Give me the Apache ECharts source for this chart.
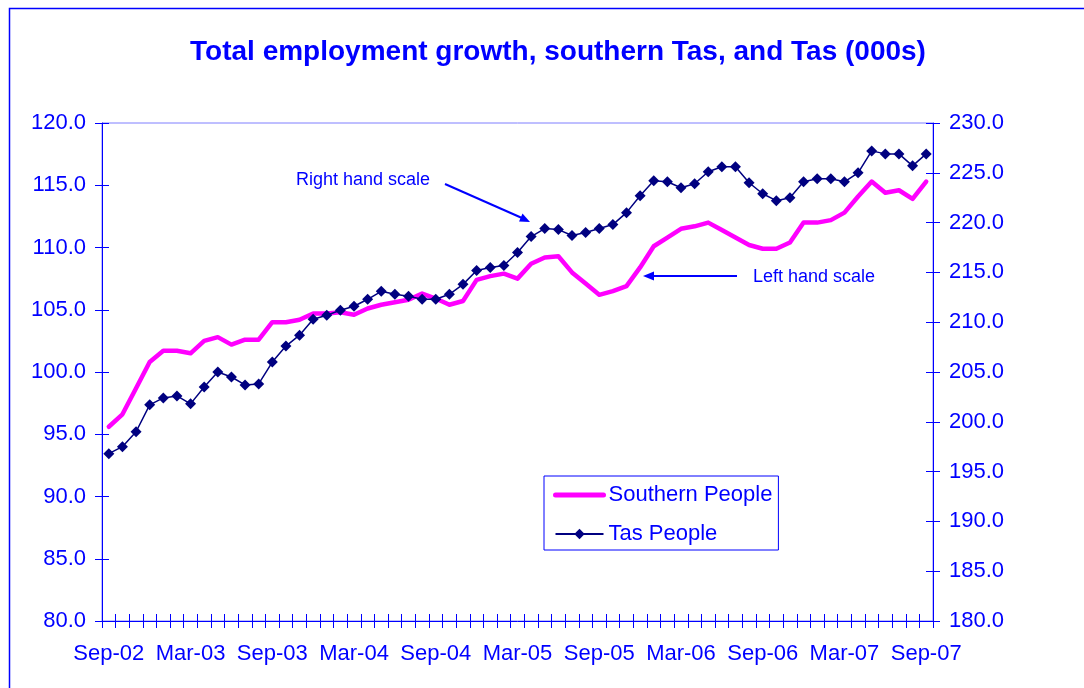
<!DOCTYPE html>
<html>
<head>
<meta charset="utf-8">
<script src="https://cdn.jsdelivr.net/npm/echarts@6/dist/echarts.min.js"></script>
<style>
  html, body { margin: 0; padding: 0; background: #fff; }
  #main { width: 1084px; height: 688px; }
</style>
</head>
<body>
<div id="main"></div>
<script>
var months = [
    'Sep-02','Oct-02','Nov-02','Dec-02','Jan-03','Feb-03','Mar-03','Apr-03','May-03','Jun-03','Jul-03','Aug-03',
    'Sep-03','Oct-03','Nov-03','Dec-03','Jan-04','Feb-04','Mar-04','Apr-04','May-04','Jun-04','Jul-04','Aug-04',
    'Sep-04','Oct-04','Nov-04','Dec-04','Jan-05','Feb-05','Mar-05','Apr-05','May-05','Jun-05','Jul-05','Aug-05',
    'Sep-05','Oct-05','Nov-05','Dec-05','Jan-06','Feb-06','Mar-06','Apr-06','May-06','Jun-06','Jul-06','Aug-06',
    'Sep-06','Oct-06','Nov-06','Dec-06','Jan-07','Feb-07','Mar-07','Apr-07','May-07','Jun-07','Jul-07','Aug-07',
    'Sep-07'
];

// southern Tas, left hand scale
var southernPeople = [
    95.6, 96.6, 98.7, 100.8, 101.7, 101.7, 101.5, 102.5, 102.8, 102.2, 102.6, 102.6,
    104.0, 104.0, 104.2, 104.7, 104.7, 104.8, 104.6, 105.1, 105.4, 105.6, 105.8, 106.3,
    105.9, 105.4, 105.7, 107.4, 107.7, 107.9, 107.5, 108.7, 109.2, 109.3, 108.0, 107.1,
    106.2, 106.5, 106.9, 108.4, 110.1, 110.8, 111.5, 111.7, 112.0, 111.4, 110.8, 110.2,
    109.9, 109.9, 110.4, 112.0, 112.0, 112.2, 112.8, 114.1, 115.3, 114.4, 114.6, 113.9,
    115.3
];

// Tas, right hand scale
var tasPeople = [
    196.8, 197.5, 199.0, 201.7, 202.4, 202.6, 201.8, 203.5, 205.0, 204.5, 203.7, 203.8,
    206.0, 207.6, 208.7, 210.3, 210.7, 211.2, 211.6, 212.3, 213.1, 212.8, 212.6, 212.3,
    212.3, 212.8, 213.8, 215.2, 215.5, 215.7, 217.0, 218.6, 219.4, 219.3, 218.7, 219.0,
    219.4, 219.8, 221.0, 222.7, 224.2, 224.1, 223.5, 223.9, 225.1, 225.6, 225.6, 224.0,
    222.9, 222.2, 222.5, 224.1, 224.4, 224.4, 224.1, 225.0, 227.2, 226.9, 226.9, 225.7,
    226.9
];

var leftScale = [80, 120, 5];
var rightScale = [180, 230, 5];

var blue = '#0000ff';
var font = '"Liberation Sans", Arial, sans-serif';

function yAx(pos, sc, inside) {
    return {
        type: 'value',
        position: pos,
        min: sc[0],
        max: sc[1],
        interval: sc[2],
        axisLine: { show: !inside, lineStyle: { color: blue, width: 1 } },
        axisTick: { show: true, inside: inside, length: 7, lineStyle: { color: blue } },
        axisLabel: {
            show: !inside, color: blue, fontSize: 22, fontFamily: font, margin: 16,
            formatter: function (v) { return v.toFixed(1); }
        },
        splitLine: { show: false }
    };
}

function xAx(inside) {
    return {
        type: 'category',
        data: months,
        position: 'bottom',
        boundaryGap: true,
        axisLine: { show: !inside, lineStyle: { color: blue, width: 1 } },
        axisTick: { show: true, inside: inside, interval: 0, length: 7, lineStyle: { color: blue } },
        axisLabel: { show: !inside, interval: 5, color: blue, fontSize: 22, fontFamily: font, margin: 22 },
        splitLine: { show: false }
    };
}

var myChart = echarts.init(document.getElementById('main'));
var option = {
    animation: false,
    backgroundColor: '#fff',
    title: {
        text: 'Total employment growth, southern Tas, and Tas (000s)',
        left: 553,
        textAlign: 'center',
        top: 33,
        textStyle: { color: blue, fontSize: 28, fontWeight: 'bold', fontFamily: font }
    },
    grid: {
        left: 102, right: 151, top: 123, bottom: 67,
        show: true, borderColor: '#7f7fff', borderWidth: 1
    },
    legend: {
        orient: 'vertical',
        left: 544,
        top: 476,
        padding: [8, 6, 5, 9],
        itemWidth: 48,
        itemHeight: 13,
        itemGap: 17,
        borderColor: blue,
        borderWidth: 1,
        textStyle: { color: blue, fontSize: 22, fontFamily: font },
        data: [
            { name: 'Southern People', itemStyle: { color: 'transparent', borderWidth: 0 },
              lineStyle: { width: 5, cap: 'round' } },
            { name: 'Tas People' }
        ]
    },
    xAxis: [xAx(false), xAx(true)],
    yAxis: [yAx('left', leftScale, false), yAx('right', rightScale, false),
            yAx('left', leftScale, true), yAx('right', rightScale, true)],
    series: [
        {
            name: 'Southern People',
            type: 'line',
            yAxisIndex: 0,
            data: southernPeople,
            symbol: 'none',
            lineStyle: { color: '#ff00ff', width: 4.5, cap: 'round', join: 'round' },
            itemStyle: { color: '#ff00ff' },
            z: 2
        },
        {
            name: 'Tas People',
            type: 'line',
            yAxisIndex: 1,
            data: tasPeople,
            symbol: 'diamond',
            symbolSize: 11,
            showAllSymbol: true,
            lineStyle: { color: '#000080', width: 1.5 },
            itemStyle: { color: '#000080' },
            z: 3
        }
    ],
    graphic: [
        { type: 'rect', shape: { x: 9.5, y: 8.5, width: 1200, height: 800 },
          style: { fill: null, stroke: blue, lineWidth: 1.5 }, silent: true },
        { type: 'text', left: 296, top: 171,
          style: { text: 'Right hand scale', fill: blue, fontSize: 18, fontFamily: font } },
        { type: 'line', shape: { x1: 445, y1: 184, x2: 522, y2: 218 },
          style: { stroke: blue, lineWidth: 2 } },
        { type: 'polygon', shape: { points: [[530, 222], [519, 221.5], [522.5, 213.5]] },
          style: { fill: blue } },
        { type: 'text', left: 753, top: 268,
          style: { text: 'Left hand scale', fill: blue, fontSize: 18, fontFamily: font } },
        { type: 'line', shape: { x1: 737, y1: 276, x2: 650, y2: 276 },
          style: { stroke: blue, lineWidth: 2 } },
        { type: 'polygon', shape: { points: [[643, 276], [654, 271.5], [654, 280.5]] },
          style: { fill: blue } }
    ]
};
myChart.setOption(option);
</script>
</body>
</html>
